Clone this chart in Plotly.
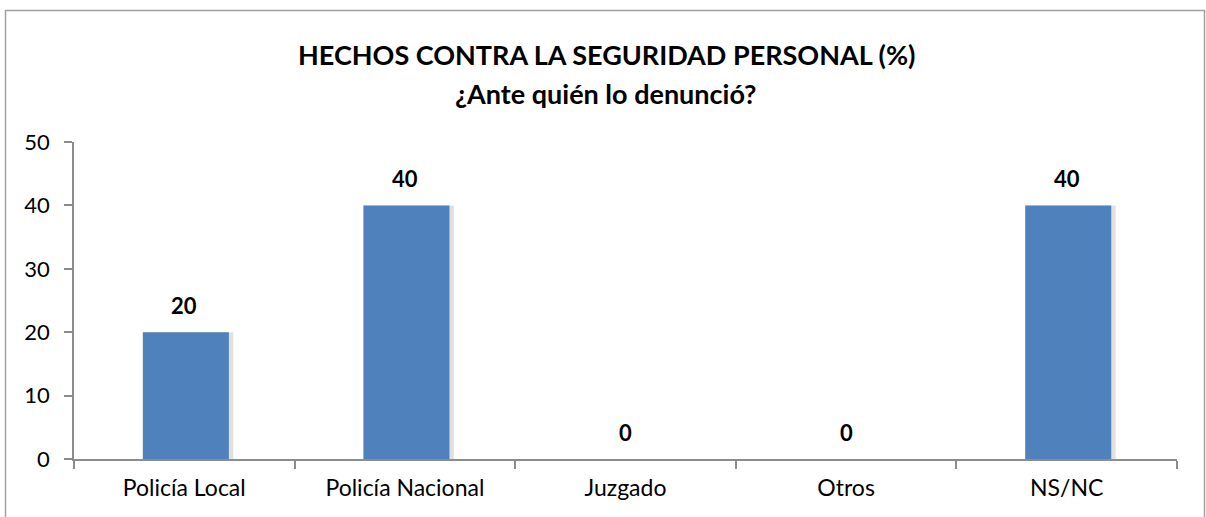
import plotly.graph_objects as go

categories = ["Policía Local", "Policía Nacional", "Juzgado", "Otros", "NS/NC"]
values = [20, 40, 0, 0, 40]
y_ticks = [0, 10, 20, 30, 40, 50]
title_line1 = "HECHOS CONTRA LA SEGURIDAD PERSONAL (%)"
title_line2 = "¿Ante quién lo denunció?"

FONT = "Lato"
W, H = 1206, 517
L, R, T, B = 74, 29, 142, 58
pw, ph = W - L - R, H - T - B

def px_x(p):
    return (p - L) / pw

def px_y(p):
    return (H - B - p) / ph

fig = go.Figure()
# soft shadow
fig.add_trace(go.Bar(
    x=categories, y=values, width=0.41, offset=-0.188,
    marker=dict(color="rgba(0,0,0,0.12)", line=dict(width=0)),
    hoverinfo="skip", showlegend=False,
))
fig.add_trace(go.Bar(
    x=categories, y=values, width=0.39, offset=-0.188,
    marker=dict(color="#4F81BD", line=dict(width=0)),
    showlegend=False,
))

annotations = []
for c, v in zip(categories, values):
    annotations.append(dict(
        x=c, y=v, xref="x", yref="y", text="<b>%d</b>" % v, showarrow=False,
        yshift=27, yanchor="middle", xanchor="center",
        font=dict(family=FONT, size=22, color="black"),
    ))
annotations.append(dict(
    x=px_x(606), y=px_y(55), xref="paper", yref="paper", text="<b>%s</b>" % title_line1,
    showarrow=False, xanchor="center", yanchor="middle",
    font=dict(family=FONT, size=27, color="black"),
))
annotations.append(dict(
    x=px_x(606), y=px_y(93), xref="paper", yref="paper", text="<b>%s</b>" % title_line2,
    showarrow=False, xanchor="center", yanchor="middle",
    font=dict(family=FONT, size=27, color="black"),
))

fig.update_layout(
    width=W, height=H,
    margin=dict(l=L, r=R, t=T, b=B, pad=0),
    paper_bgcolor="white", plot_bgcolor="white",
    barmode="overlay",
    font=dict(family=FONT, size=23, color="black"),
    annotations=annotations,
    shapes=[dict(
        type="rect", xref="paper", yref="paper",
        x0=px_x(5.5), x1=px_x(1204.5), y0=px_y(560), y1=px_y(10.5),
        line=dict(color="#A0A0A0", width=1.5), fillcolor="rgba(0,0,0,0)", layer="below",
    )],
    xaxis=dict(
        type="category", showgrid=False, showline=True, linecolor="#8C8C8C", linewidth=1.5,
        ticks="outside", tickson="boundaries", ticklen=8, tickcolor="#8C8C8C", tickwidth=1.5,
        tickfont=dict(family=FONT, size=23, color="black"),
        ticklabelstandoff=8,
        range=[-0.5, 4.5], fixedrange=True,
    ),
    yaxis=dict(
        range=[0, 50], tickvals=y_ticks, showgrid=False, zeroline=False,
        showline=True, linecolor="#8C8C8C", linewidth=1.5,
        ticks="outside", ticklen=8, tickcolor="#8C8C8C", tickwidth=1.5,
        tickfont=dict(family=FONT, size=22, color="black"),
        ticklabelstandoff=10, fixedrange=True,
    ),
)

fig.write_html(
    "out.html",
    config={"displayModeBar": False},
    post_script="document.body.style.margin='0';document.body.style.overflow='hidden';",
)
